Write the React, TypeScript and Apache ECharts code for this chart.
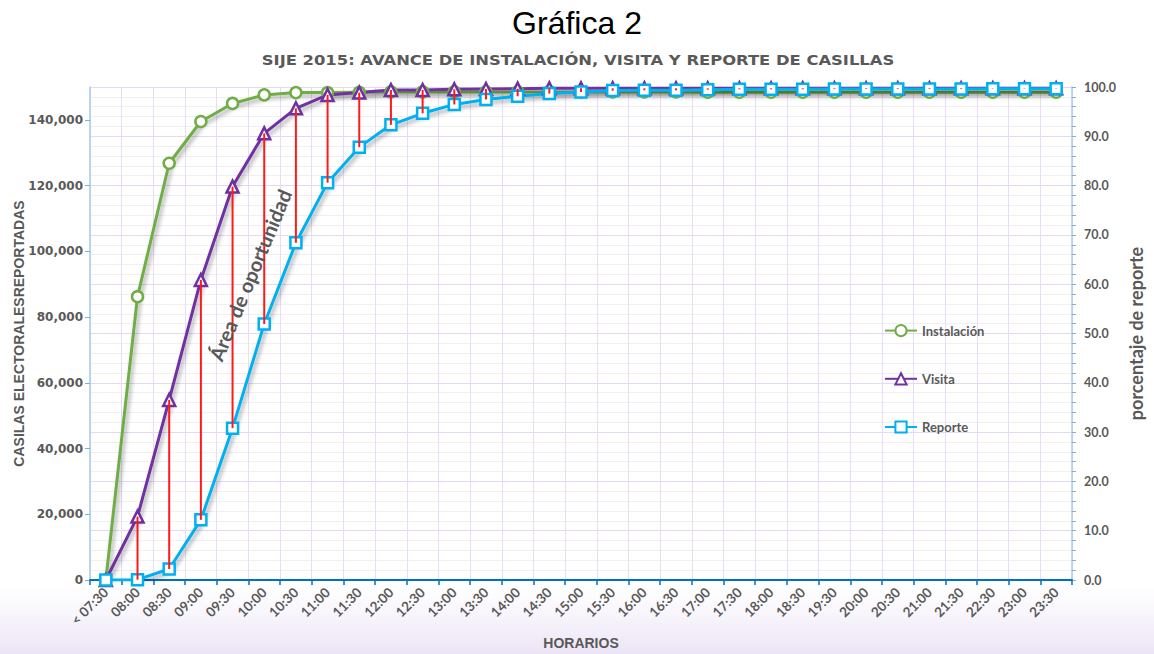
import React, { useEffect, useRef } from "react";
import * as echarts from "echarts";

const categories = [
  "< 07:30", "08:00", "08:30", "09:00", "09:30", "10:00", "10:30", "11:00", "11:30", "12:00",
  "12:30", "13:00", "13:30", "14:00", "14:30", "15:00", "15:30", "16:00", "16:30", "17:00",
  "17:30", "18:00", "18:30", "19:30", "20:00", "20:30", "21:00", "21:30", "22:30", "23:00", "23:30",
];

const instalacion = [
  0, 86200, 126800, 139500, 145000, 147600, 148300, 148300, 148400, 148500,
  148500, 148500, 148500, 148500, 148500, 148500, 148500, 148500, 148500, 148400,
  148400, 148400, 148400, 148400, 148400, 148400, 148400, 148400, 148400, 148400, 148400,
];

const visita = [
  0, 19300, 54800, 91300, 119700, 135900, 143500, 147600, 148300, 149100,
  149100, 149300, 149400, 149500, 149600, 149600, 149600, 149600, 149600, 149600,
  149600, 149600, 149600, 149600, 149600, 149600, 149600, 149600, 149600, 149600, 149600,
];

const reporte = [
  0, 100, 3350, 18300, 46200, 77900, 102600, 120900, 131700, 138500,
  142000, 144700, 146200, 147200, 148000, 148500, 148900, 149000, 149000, 149200,
  149300, 149300, 149300, 149400, 149400, 149400, 149400, 149400, 149500, 149500, 149500,
];

const leftTicks = { min: 0, max: 150000, interval: 20000 };
const rightTicks = { min: 0, max: 100, interval: 10 };

const GRAY = "#595959";

export default function App() {
  const ref = useRef<HTMLDivElement>(null);

  useEffect(() => {
    if (!ref.current) return;
    const chart = echarts.init(ref.current, null, { renderer: "svg" });

    const shadow = {
      shadowColor: "rgba(0,0,0,0.35)",
      shadowBlur: 4,
      shadowOffsetX: 2,
      shadowOffsetY: 3,
    };

    const lineSeries = (name: string, data: number[], color: string, symbol: string, size: number) => ({
      name,
      type: "line",
      data,
      yAxisIndex: 0,
      symbol,
      symbolSize: size,
      showAllSymbol: true,
      z: 3,
      lineStyle: { color, width: 3, ...shadow },
      itemStyle: { color: "#ffffff", borderColor: color, borderWidth: 2.5 },
      emphasis: { disabled: true },
    });

    const option: any = {
      animation: false,
      backgroundColor: "#ffffff",
      title: [
        {
          text: "Gráfica 2",
          left: "center",
          top: 2,
          textStyle: { fontFamily: "Liberation Sans", fontSize: 32, fontWeight: "normal", color: "#000000" },
        },
      ],
      graphic: [
        {
          type: "rect",
          silent: true,
          z: -10,
          shape: { x: 0, y: 585, width: 1154, height: 69 },
          style: {
            fill: new echarts.graphic.LinearGradient(0, 0, 0, 1, [
              { offset: 0, color: "rgba(240,234,248,0)" },
              { offset: 1, color: "rgba(236,228,246,1)" },
            ]),
          },
        },
        {
          type: "text",
          x: 578,
          y: 60,
          scaleX: 1.17,
          z: 10,
          style: {
            text: "SIJE 2015: AVANCE DE INSTALACIÓN, VISITA Y REPORTE DE CASILLAS",
            fontFamily: "DejaVu Sans",
            fontWeight: "bold",
            fontSize: 14,
            fill: GRAY,
            textAlign: "center",
            textVerticalAlign: "middle",
          },
        },
        {
          type: "text",
          x: 250,
          y: 275,
          rotation: (67.5 * Math.PI) / 180,
          z: 10,
          style: {
            text: "Área de oportunidad",
            fontFamily: "Lato",
            fontWeight: "bold",
            fontSize: 20,
            fill: GRAY,
            textAlign: "center",
            textVerticalAlign: "middle",
          },
        },
      ],
      legend: {
        data: ["Instalación", "Visita", "Reporte"],
        orient: "vertical",
        left: 884,
        top: 324,
        padding: 0,
        itemGap: 35,
        itemWidth: 32,
        itemHeight: 14,
        textStyle: { fontFamily: "Lato", fontWeight: "bold", fontSize: 13, color: GRAY },
      },
      grid: { left: 90, right: 82, top: 87, bottom: 74, outerBoundsMode: "none", containLabel: false },
      xAxis: {
        type: "category",
        data: categories,
        boundaryGap: true,
        name: "HORARIOS",
        nameLocation: "middle",
        nameGap: 56,
        nameMoveOverlap: false,
        nameTextStyle: { fontFamily: "Liberation Sans", fontWeight: "bold", fontSize: 14, color: GRAY },
        axisLine: { lineStyle: { color: "#0070C0", width: 2 } },
        axisTick: { show: true, alignWithLabel: false, length: 5, lineStyle: { color: "#0070C0", width: 1.5 } },
        axisLabel: {
          interval: 0,
          rotate: 45,
          margin: 10,
          fontFamily: "Lato",
          fontWeight: "bold",
          fontSize: 13.5,
          color: GRAY,
        },
        splitLine: { show: true, lineStyle: { color: "#E8DCF7", width: 1 } },
      },
      yAxis: [
        {
          type: "value",
          min: leftTicks.min,
          max: leftTicks.max,
          interval: leftTicks.interval,
          name: "CASILAS ELECTORALESREPORTADAS",
          nameLocation: "middle",
          nameRotate: 90,
          nameGap: 64,
          nameMoveOverlap: false,
          nameTextStyle: { fontFamily: "Liberation Sans", fontWeight: "bold", fontSize: 14, color: GRAY },
          axisLine: { show: true, lineStyle: { color: "#A9CBEA", width: 1.5 } },
          axisTick: { show: true, length: 5, lineStyle: { color: "#7EB0DE" } },
          axisLabel: {
            showMaxLabel: false,
            margin: 7,
            fontFamily: "DejaVu Sans",
            fontWeight: "bold",
            fontSize: 12,
            color: GRAY,
            formatter: (v: number) => v.toLocaleString("en-US"),
          },
          splitLine: { show: false },
        },
        {
          type: "value",
          position: "right",
          min: rightTicks.min,
          max: rightTicks.max,
          interval: rightTicks.interval,
          name: "porcentaje de reporte",
          nameLocation: "middle",
          nameRotate: 90,
          nameGap: 55,
          nameMoveOverlap: false,
          nameTextStyle: { fontFamily: "Lato", fontWeight: "bold", fontSize: 18, color: GRAY },
          axisLine: { show: true, lineStyle: { color: "#A9CBEA", width: 1.5 } },
          axisTick: { show: true, length: 4, lineStyle: { color: "#7EB0DE" } },
          minorTick: { show: true, splitNumber: 5, length: 4, lineStyle: { color: "#7EB0DE" } },
          axisLabel: {
            margin: 12,
            fontFamily: "Lato",
            fontWeight: "bold",
            fontSize: 12.5,
            color: GRAY,
            formatter: (v: number) => v.toFixed(1),
          },
          splitLine: { show: true, lineStyle: { color: "#E6D7F6", width: 1 } },
          minorSplitLine: { show: true, lineStyle: { color: "#F1EEF5", width: 1 } },
        },
      ],
      series: [
        lineSeries("Instalación", instalacion, "#70AD47", "circle", 11),
        lineSeries("Visita", visita, "#7030A0", "triangle", 12),
        lineSeries("Reporte", reporte, "#00B0F0", "rect", 11),
        {
          name: "gap",
          type: "custom",
          silent: true,
          z: 6,
          data: categories.map((_, i) => [i, reporte[i], visita[i]]),
          encode: { x: 0, y: [1, 2] },
          renderItem: (_params: any, api: any) => {
            const p1 = api.coord([api.value(0), api.value(1)]);
            const p2 = api.coord([api.value(0), api.value(2)]);
            return {
              type: "line",
              shape: { x1: p1[0], y1: p1[1], x2: p2[0], y2: p2[1] },
              style: { stroke: "#FF1A1A", lineWidth: 2 },
            };
          },
        },
      ],
    };

    chart.setOption(option);
    return () => chart.dispose();
  }, []);

  return (
    <div
      ref={ref}
      style={{ position: "absolute", left: 0, top: 0, width: 1154, height: 654 }}
    />
  );
}
